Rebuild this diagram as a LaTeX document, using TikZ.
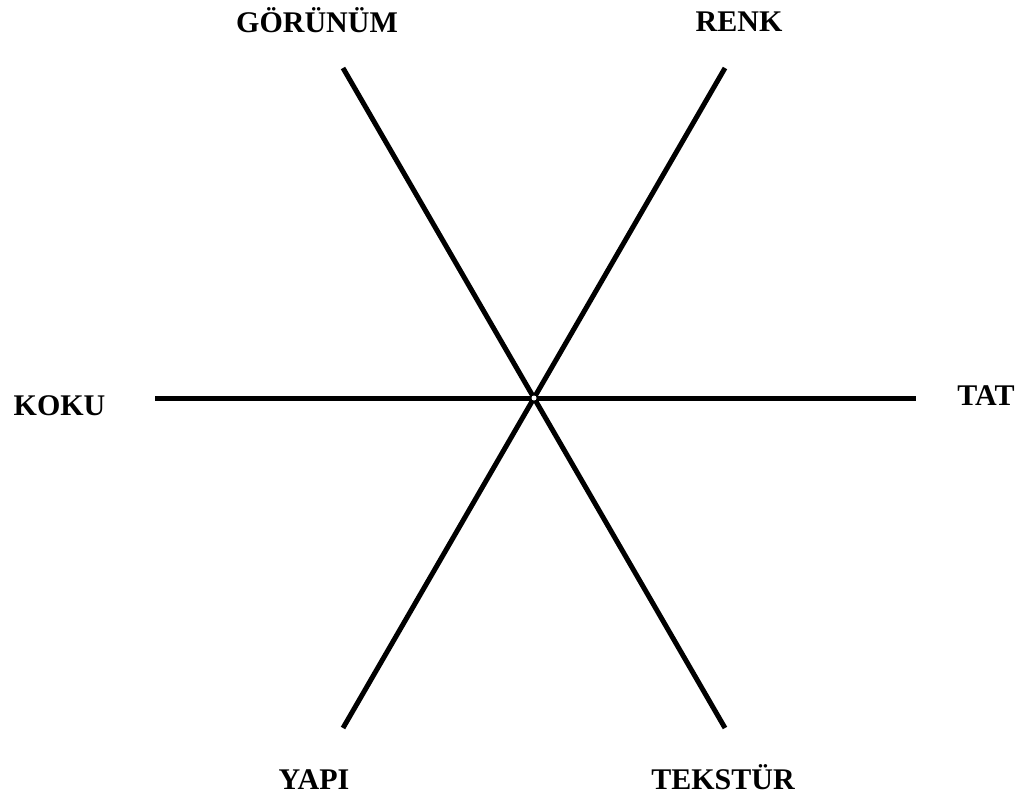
\documentclass[tikz,border=0pt]{standalone}
\usepackage{fontspec}
\setmainfont{Liberation Serif}
\begin{document}
\begin{tikzpicture}[x=1pt,y=-1pt,
  axis/.style={line width=5pt,line cap=butt},
  lbl/.style={font=\fontsize{30}{34}\selectfont\bfseries,anchor=base,inner sep=0pt,text depth=0pt}]
\useasboundingbox (0,0) rectangle (1030,796);
\coordinate (c) at (534,398);
\coordinate (tl) at (343,68);
\coordinate (br) at (725,728);
\coordinate (tr) at (725,68);
\coordinate (bl) at (343,728);
\coordinate (l) at (155,398);
\coordinate (r) at (916,398);
\draw[axis] (tl) -- (br);
\draw[axis] (tr) -- (bl);
\draw[axis] (l) -- (r);
\fill[white] (c) circle (2.5);
\node[lbl] (gorunum) at (317,32) {GÖRÜNÜM};
\node[lbl] (renk) at (739,31) {RENK};
\node[lbl] (koku) at (59.5,415) {KOKU};
\node[lbl] (tat) at (986,405) {TAT};
\node[lbl] (yapi) at (314,789) {YAPI};
\node[lbl] (tekstur) at (723,789) {TEKSTÜR};
\end{tikzpicture}
\end{document}
